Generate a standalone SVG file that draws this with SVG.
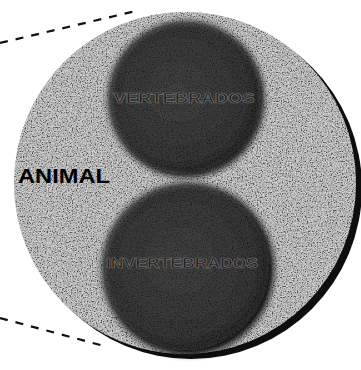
<svg xmlns="http://www.w3.org/2000/svg" width="361" height="370" viewBox="0 0 361 370">
  <style>
    .dash { stroke: #111; stroke-width: 2.2; stroke-dasharray: 8 8; fill: none; }
    .lbl { font-family: "Liberation Sans", Arial, sans-serif; font-weight: bold; }
    .inner { fill: #1c1c1c; stroke: #747474; stroke-width: 0.7; }
  </style>
  <defs>
    <filter id="grain" x="0" y="0" width="100%" height="100%">
      <feTurbulence type="fractalNoise" baseFrequency="0.8" numOctaves="2" seed="5" result="n"/>
      <feColorMatrix in="n" type="matrix" values="2.4 0 0 0 -0.7  2.4 0 0 0 -0.7  2.4 0 0 0 -0.7  0 0 0 0 0.5" result="g"/>
      <feComposite in="g" in2="SourceGraphic" operator="in"/>
    </filter>
    <filter id="soft" x="-10%" y="-10%" width="120%" height="120%">
      <feGaussianBlur stdDeviation="3"/>
    </filter>
    <radialGradient id="darkG" cx="45%" cy="45%" r="55%">
      <stop offset="0" stop-color="#2e2e2e"/>
      <stop offset="0.8" stop-color="#222"/>
      <stop offset="1" stop-color="#0e0e0e"/>
    </radialGradient>
  </defs>

  <rect width="361" height="370" fill="#ffffff"/>

  <g id="connectors">
    <line class="dash" x1="0" y1="43" x2="136" y2="11"/>
    <line class="dash" x1="0" y1="318" x2="104" y2="346"/>
  </g>

  <g id="animal">
    <circle cx="191" cy="188" r="171" fill="#0e0e0e"/>
    <circle cx="185" cy="183" r="171" fill="#adadad"/>
    <circle cx="185" cy="183" r="171" fill="#fff" filter="url(#grain)"/>
    <text class="lbl" x="18" y="183" font-size="21" textLength="92" lengthAdjust="spacingAndGlyphs" fill="#000">ANIMAL</text>
  </g>

  <g id="vertebrados">
    <circle cx="186" cy="99" r="78" fill="url(#darkG)" filter="url(#soft)"/>
    <circle cx="186" cy="99" r="75" fill="#fff" opacity="0.22" filter="url(#grain)"/>
    <text class="lbl inner" x="184" y="103" font-size="14" text-anchor="middle" textLength="141" lengthAdjust="spacingAndGlyphs">VERTEBRADOS</text>
  </g>

  <g id="invertebrados">
    <circle cx="188" cy="269" r="86" fill="url(#darkG)" filter="url(#soft)"/>
    <circle cx="187" cy="268" r="82" fill="#fff" opacity="0.22" filter="url(#grain)"/>
    <text class="lbl inner" x="182" y="268" font-size="15" text-anchor="middle" textLength="152" lengthAdjust="spacingAndGlyphs">INVERTEBRADOS</text>
  </g>
</svg>
